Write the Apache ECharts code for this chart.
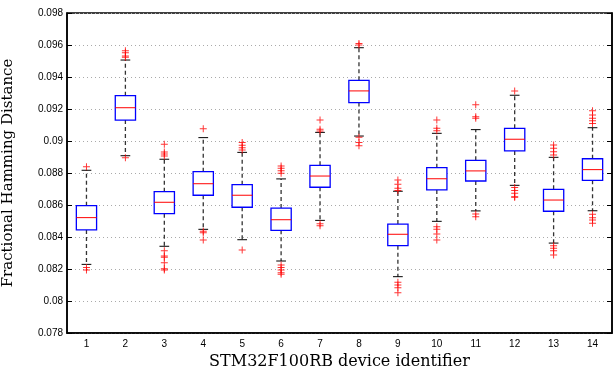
<!DOCTYPE html>
<html>
<head>
<meta charset="utf-8">
<script src="https://cdn.jsdelivr.net/npm/echarts@6/dist/echarts.min.js"></script>
<style>html,body{margin:0;padding:0;background:#fff}#c{width:613px;height:369px}</style>
</head>
<body>
<div id="c"></div>
<script>
var categories = ['1','2','3','4','5','6','7','8','9','10','11','12','13','14'];
var whiskerLow  = [0.08229,0.08908,0.08342,0.08448,0.08383,0.08250,0.08504,0.09031,0.08152,0.08498,0.08563,0.08723,0.08362,0.08564];
var q1          = [0.08444,0.09131,0.08546,0.08661,0.08586,0.08442,0.08711,0.09240,0.08346,0.08694,0.08750,0.08938,0.08561,0.08754];
var median      = [0.08521,0.09208,0.08617,0.08733,0.08661,0.08508,0.08781,0.09313,0.08417,0.08764,0.08813,0.09011,0.08631,0.08821];
var q3          = [0.08596,0.09283,0.08683,0.08808,0.08727,0.08581,0.08848,0.09379,0.08481,0.08833,0.08879,0.09079,0.08698,0.08889];
var whiskerHigh = [0.08817,0.09506,0.08886,0.09021,0.08929,0.08763,0.09054,0.09583,0.08686,0.09048,0.09071,0.09286,0.08898,0.09083];
var outliers = [
  [0.08839,0.08210,0.08194],
  [0.09564,0.09552,0.09531,0.09523,0.08896],
  [0.08979,0.08931,0.08919,0.08906,0.08314,0.08281,0.08273,0.08239,0.08202,0.08194],
  [0.09077,0.08436,0.08427,0.08381],
  [0.08990,0.08973,0.08958,0.08944,0.08319],
  [0.08844,0.08829,0.08814,0.08798,0.08225,0.08210,0.08194,0.08177,0.08167],
  [0.09131,0.09073,0.09063,0.08483,0.08471],
  [0.09610,0.09600,0.09023,0.08990,0.08971],
  [0.08756,0.08729,0.08704,0.08690,0.08117,0.08100,0.08083,0.08052],
  [0.09131,0.09079,0.09064,0.08464,0.08448,0.08419,0.08381],
  [0.09227,0.09152,0.09142,0.08544,0.08527],
  [0.09313,0.08710,0.08690,0.08673,0.08652,0.08648],
  [0.08975,0.08954,0.08933,0.08913,0.08346,0.08330,0.08314,0.08288],
  [0.09189,0.09163,0.09142,0.09127,0.09110,0.08542,0.08521,0.08506,0.08486]
];
var yTicks = {min:0.078, max:0.098, step:0.002};

var boxData = categories.map(function(c,i){return [i, whiskerLow[i], q1[i], median[i], q3[i], whiskerHigh[i]];});
var outData = [];
outliers.forEach(function(arr,i){arr.forEach(function(v){outData.push([i,v]);});});

var chart = echarts.init(document.getElementById('c'), null, {renderer:'canvas'});
chart.setOption({
  animation:false,
  backgroundColor:'#fff',
  grid:{left:67,right:1,top:13,bottom:36,show:true,borderColor:'#000',borderWidth:1.5,backgroundColor:'transparent',
    containLabel:false,outerBoundsMode:'none'},
  xAxis:[{
    type:'category',data:categories,boundaryGap:true,
    axisLine:{lineStyle:{color:'#000',width:1.5}},
    axisTick:{show:false},
    axisLabel:{color:'#000',fontSize:10,fontFamily:'Liberation Sans, Arial, sans-serif',margin:6},
    name:'STM32F100RB device identifier',nameLocation:'middle',nameGap:21,
    nameTextStyle:{color:'#000',fontSize:16,fontFamily:'DejaVu Serif, serif'}
  }],
  yAxis:[{
    type:'value',min:yTicks.min,max:yTicks.max,interval:yTicks.step,
    axisLine:{show:true,lineStyle:{color:'#000',width:1.5}},
    axisTick:{show:true,inside:true,length:5,lineStyle:{color:'#000'}},
    axisLabel:{color:'#000',fontSize:10,fontFamily:'Liberation Sans, Arial, sans-serif',margin:4,
      formatter:function(v){return String(+(+v).toFixed(3));}},
    splitLine:{show:true,lineStyle:{color:'#aaa',type:[1,3],width:1}},
    name:'Fractional Hamming Distance',nameLocation:'middle',nameGap:51,
    nameTextStyle:{color:'#000',fontSize:15,fontFamily:'DejaVu Serif, serif'}
  },{
    type:'value',min:yTicks.min,max:yTicks.max,interval:yTicks.step,position:'right',
    axisLine:{show:true,lineStyle:{color:'#000',width:1.5}},
    axisTick:{show:true,inside:true,length:5,lineStyle:{color:'#000'}},
    axisLabel:{show:false},splitLine:{show:false}
  }],
  series:[{
    type:'custom',
    data:boxData,
    encode:{x:0,y:[1,2,3,4,5]},
    renderItem:function(params,api){
      var i=api.value(0);
      var band=api.size([1,0])[0];
      var w=band*0.52, cw=band*0.25;
      var pLow=api.coord([i,api.value(1)]);
      var pQ1=api.coord([i,api.value(2)]);
      var pMed=api.coord([i,api.value(3)]);
      var pQ3=api.coord([i,api.value(4)]);
      var pHigh=api.coord([i,api.value(5)]);
      var x=pMed[0];
      var dash={stroke:'#333',lineWidth:1.3,lineDash:[4,3]};
      return {type:'group',children:[
        {type:'line',shape:{x1:x,y1:pQ3[1],x2:x,y2:pHigh[1]},style:dash},
        {type:'line',shape:{x1:x,y1:pQ1[1],x2:x,y2:pLow[1]},style:dash},
        {type:'line',shape:{x1:x-cw/2,y1:pHigh[1],x2:x+cw/2,y2:pHigh[1]},style:{stroke:'#000',lineWidth:1}},
        {type:'line',shape:{x1:x-cw/2,y1:pLow[1],x2:x+cw/2,y2:pLow[1]},style:{stroke:'#000',lineWidth:1}},
        {type:'rect',shape:{x:x-w/2,y:pQ3[1],width:w,height:pQ1[1]-pQ3[1]},style:{fill:'#fff',stroke:'#0000ff',lineWidth:1.3}},
        {type:'line',shape:{x1:x-w/2,y1:pMed[1],x2:x+w/2,y2:pMed[1]},style:{stroke:'#ff0000',lineWidth:1}}
      ]};
    },
    z:2
  },{
    type:'scatter',
    data:outData,
    symbol:'path://M4.3,0H5.7V4.3H10V5.7H5.7V10H4.3V5.7H0V4.3H4.3Z',
    symbolSize:7,
    itemStyle:{color:'#ff0000',opacity:0.8},
    z:3
  }]
});
</script>
</body>
</html>
